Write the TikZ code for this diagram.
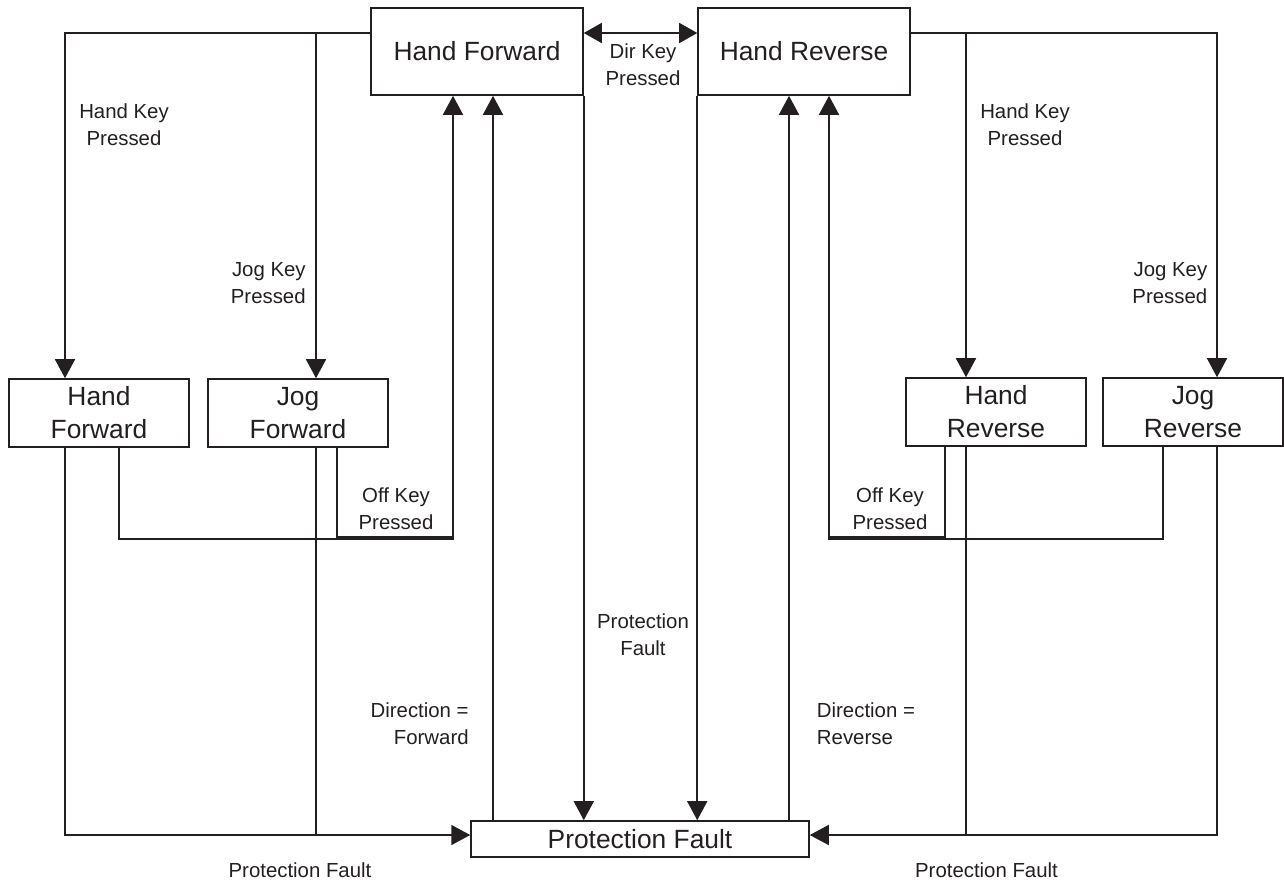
\documentclass[tikz,border=0pt]{standalone}
\usepackage{fontspec}
\setmainfont{Liberation Sans}
\usetikzlibrary{arrows.meta}
\definecolor{ink}{RGB}{35,31,32}

\tikzset{
  state/.style={draw=ink, line width=0.9pt, inner sep=0pt, text=ink, align=center,
    font=\fontsize{15}{18.8}\selectfont},
  topstate/.style={state, minimum width=42.4mm, minimum height=17.4mm},
  substate/.style={state, minimum width=36mm, minimum height=13.6mm},
  faultstate/.style={state, minimum width=67.6mm, minimum height=7.2mm},
  cond/.style={text=ink, align=center, inner sep=0pt, font=\fontsize{11.6}{15.4}\selectfont},
  wire/.style={draw=ink, line width=0.9pt},
  flow/.style={wire, -{Triangle[length=3.8mm,width=4mm]}},
  biflow/.style={wire, {Triangle[length=3.6mm,width=4mm]}-{Triangle[length=3.6mm,width=4mm]}},
}

\begin{document}
\begin{tikzpicture}[x=0.02cm, y=-0.02cm]
    \useasboundingbox (0,0) rectangle (1284,886);

    % states
    \node[topstate] (hfTop) at (477,51.5) {Hand Forward};
    \node[topstate] (hrTop) at (804,51.5) {Hand Reverse};
    \node[substate] (hfSub) at (99,413) {Hand\\Forward};
    \node[substate] (jfSub) at (298,413) {Jog\\Forward};
    \node[substate] (hrSub) at (996,412) {Hand\\Reverse};
    \node[substate] (jrSub) at (1193,412) {Jog\\Reverse};
    \node[faultstate] (pf) at (640,839) {Protection Fault};

    % rows and lanes of the connectors
    \coordinate (keyRow) at (0,33);
    \coordinate (offRow) at (0,539);
    \coordinate (offRowB) at (0,537);
    \coordinate (faultRow) at (0,835);
    \foreach \n/\x in {A/65, B/119, C/316, D/337, E/453, F/493,
                       G/789, H/829, I/945, J/966, K/1163, L/1217}
        \coordinate (lane\n) at (\x,0);

    % forward side
    \draw[flow] (hfTop.west |- keyRow) -| (hfSub.north -| laneA);
    \draw[flow] (laneC |- keyRow) -- (jfSub.north -| laneC);
    \draw[flow] (hfSub.south -| laneA) |- (pf.west |- faultRow);
    \draw[wire] (jfSub.south -| laneC) -- (laneC |- faultRow);
    \draw[flow] (hfSub.south -| laneB) |- (laneE |- offRow) -- (hfTop.south -| laneE);
    \draw[wire] (jfSub.south -| laneD) |- (laneE |- offRowB);
    \draw[flow] (pf.north -| laneF) -- (hfTop.south -| laneF);
    \draw[flow] (hfTop.south east) -- (pf.north -| hfTop.east);

    % direction change
    \draw[biflow] (hfTop.east |- keyRow) -- (hrTop.west |- keyRow);

    % reverse side
    \draw[flow] (hrTop.east |- keyRow) -| (jrSub.north -| laneL);
    \draw[flow] (laneJ |- keyRow) -- (hrSub.north -| laneJ);
    \draw[flow] (jrSub.south -| laneL) |- (pf.east |- faultRow);
    \draw[wire] (hrSub.south -| laneJ) -- (laneJ |- faultRow);
    \draw[flow] (jrSub.south -| laneK) |- (laneH |- offRow) -- (hrTop.south -| laneH);
    \draw[wire] (hrSub.south -| laneI) |- (laneH |- offRowB);
    \draw[flow] (pf.north -| laneG) -- (hrTop.south -| laneG);
    \draw[flow] (hrTop.south west) -- (pf.north -| hrTop.west);

    % conditions
    \node[cond] (handKeyF) at (124,124.4) {Hand Key\\Pressed};
    \node[cond, anchor=east, align=right] (jogKeyF) at (306,283.4) {Jog Key\\Pressed};
    \node[cond] (handKeyR) at (1025,124.4) {Hand Key\\Pressed};
    \node[cond, anchor=east, align=right] (jogKeyR) at (1207.6,283.4) {Jog Key\\Pressed};
    \node[cond] (dirKey) at (643,64.4) {Dir Key\\Pressed};
    \node[cond] (offKeyF) at (396,508.4) {Off Key\\Pressed};
    \node[cond] (offKeyR) at (890,508.4) {Off Key\\Pressed};
    \node[cond] (faultMid) at (643,634.4) {Protection\\Fault};
    \node[cond, anchor=east, align=right] (dirFwd) at (469,723.4) {Direction =\\Forward};
    \node[cond, anchor=west, align=left] (dirRev) at (816.6,723.4) {Direction =\\Reverse};
    \node[cond] (faultF) at (300,870) {Protection Fault};
    \node[cond] (faultR) at (986.5,870) {Protection Fault};
\end{tikzpicture}
\end{document}
